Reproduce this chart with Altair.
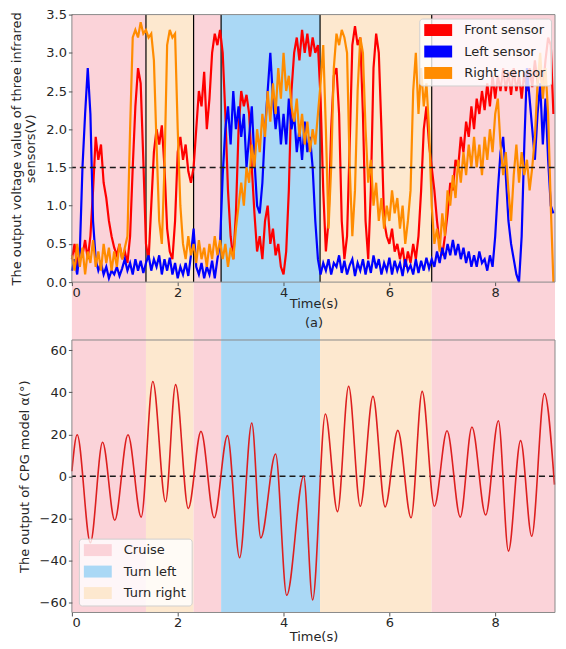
import altair as alt
import pandas as pd

# ---------------- data ----------------
STEP = 0.05
front = [0.3, 0.5, 0.2, 0.45, 0.35, 0.55, 0.3, 0.6, 1.2, 1.9, 1.6, 1.8,
         1.3, 1.1, 0.8, 0.6, 0.45, 0.35, 0.5, 0.3, 0.4, 0.25, 0.6, 1.5,
         2.3, 2.8, 2.6, 1.6, 0.5, 0.3, 1.0, 1.7, 2.0, 1.8, 2.05, 1.5,
         0.7, 0.4, 0.3, 0.8, 1.7, 1.9, 1.6, 1.8, 1.45, 1.3, 1.5, 2.0,
         2.5, 2.3, 2.75, 2.0, 2.4, 3.0, 3.25, 3.1, 3.3, 3.0, 2.2, 1.2,
         0.6, 0.3, 0.9, 2.0, 2.5, 2.3, 2.45, 2.2, 1.5, 0.9, 0.4, 0.6,
         0.3, 0.8, 1.0, 0.5, 0.7, 0.35, 0.5, 0.2, 0.1, 0.4, 1.2, 2.5,
         3.0, 3.2, 2.9, 3.3, 3.0, 3.25, 2.95, 3.2, 3.0, 3.1, 2.4, 1.2,
         0.4, 0.8, 2.0, 2.7, 2.8, 2.2, 0.8, 0.3, 0.6, 1.8, 3.1, 3.35,
         3.1, 3.2, 2.2, 0.8, 0.3, 1.2, 2.8, 3.25, 3.0, 2.0, 0.8, 0.6,
         0.5, 0.7, 0.4, 0.5, 0.3, 0.45, 0.2, 0.4, 0.25, 0.5, 0.3, 0.6,
         1.2, 2.0, 2.3, 1.8, 1.5, 1.2, 0.8, 0.5, 0.35, 0.6, 0.9, 1.3,
         1.2, 1.6, 1.5, 1.9, 1.7, 2.1, 1.9, 2.3, 2.0, 2.4, 2.2, 2.5,
         2.25, 2.6, 2.3, 2.7, 2.4, 2.7, 2.5, 2.8, 2.5, 2.75, 2.45, 2.8,
         2.5, 2.7, 2.4, 2.75, 2.5, 2.8, 2.55, 2.9, 2.6, 2.8, 2.5, 2.9,
         3.2, 3.1, 2.2]
left = [0.15, 0.3, 0.1, 0.4, 1.5, 2.2, 2.8, 2.2, 0.8, 0.3, 0.15, 0.25,
        0.1, 0.2, 0.05, 0.15, 0.1, 0.2, 0.08, 0.18, 0.3, 0.15, 0.25, 0.1,
        0.3, 0.15, 0.28, 0.12, 0.25, 0.35, 0.15, 0.3, 0.2, 0.35, 0.1, 0.3,
        0.15, 0.32, 0.1, 0.25, 0.05, 0.2, 0.1, 0.25, 0.08, 0.35, 0.7, 0.2,
        0.1, 0.25, 0.05, 0.2, 0.1, 0.28, 0.05, 0.3, 0.5, 1.4, 2.0, 2.3,
        1.8, 2.5, 2.0, 2.3, 1.9, 2.2, 1.5, 1.9, 2.3, 1.6, 1.0, 0.9,
        1.3, 2.0, 2.5, 3.0, 2.4, 2.0, 2.3, 1.8, 2.2, 1.8, 2.4, 2.0,
        2.2, 1.7, 2.0, 1.6, 2.1, 1.7, 1.9, 1.5, 0.8, 0.3, 0.1, 0.25,
        0.15, 0.3, 0.1, 0.25, 0.2, 0.35, 0.12, 0.28, 0.1, 0.22, 0.3, 0.08,
        0.25, 0.15, 0.3, 0.1, 0.28, 0.12, 0.35, 0.18, 0.3, 0.1, 0.25, 0.15,
        0.32, 0.1, 0.28, 0.15, 0.25, 0.08, 0.3, 0.15, 0.22, 0.1, 0.3, 0.12,
        0.28, 0.15, 0.32, 0.18, 0.3, 0.2, 0.4, 0.25, 0.45, 0.3, 0.5, 0.35,
        0.55, 0.35, 0.5, 0.3, 0.45, 0.25, 0.4, 0.2, 0.35, 0.2, 0.4, 0.25,
        0.3, 0.15, 0.35, 0.2, 0.6, 1.2, 1.7, 1.9, 1.4, 0.8, 0.5, 0.3,
        0.1, 0.0, 0.6, 1.8, 2.8, 2.4, 2.0, 1.6, 2.2, 2.6, 1.8, 2.4,
        1.6, 1.0, 0.9]
right = [0.35, 0.15, 0.5, 0.2, 0.45, 0.1, 0.4, 0.25, 0.55, 0.2, 0.4, 0.15,
         0.5, 0.25, 0.45, 0.15, 0.4, 0.2, 0.5, 0.3, 0.45, 0.6, 2.0, 3.2,
         3.3, 3.2, 3.4, 3.25, 3.3, 3.2, 3.25, 2.9, 1.8, 0.8, 0.5, 1.5,
         3.1, 3.3, 3.2, 3.25, 2.0, 1.0, 0.5, 0.3, 0.6, 0.35, 0.5, 0.25,
         0.55, 0.3, 0.45, 0.2, 0.5, 0.3, 0.6, 0.35, 0.55, 0.3, 0.5, 0.2,
         0.45, 0.3, 0.7, 1.0, 1.3, 1.0, 1.5, 1.3, 1.8, 1.5, 2.0, 1.7,
         2.2, 1.9, 2.5, 2.1, 2.6, 2.2, 2.8, 2.4, 3.0, 2.5, 2.7, 2.3,
         2.1, 2.4, 1.9, 2.2, 1.8, 2.1, 1.7, 2.0, 1.8, 2.2, 2.6, 3.1,
         2.0, 0.7, 1.5, 2.8, 3.25, 3.1, 3.3, 3.2, 3.0, 1.5, 0.6, 1.2,
         2.5, 3.2, 3.0, 2.0, 1.3, 1.6, 1.0, 1.3, 0.8, 1.1, 0.7, 1.0,
         0.8, 1.2, 0.9, 1.1, 0.7, 1.0, 0.5, 0.8, 1.2, 2.5, 3.0, 2.2,
         2.8, 2.3, 2.6, 2.0, 1.0, 0.5, 0.7, 0.4, 0.9, 0.6, 1.2, 1.0,
         1.4, 1.1, 1.6, 1.3, 1.7, 1.4, 1.8, 1.5, 1.9, 1.5, 1.8, 1.4,
         1.9, 1.6, 2.0, 1.7, 2.2, 2.4, 1.8, 1.4, 1.7, 1.2, 0.8, 1.4,
         1.8, 1.3, 1.7, 1.4, 1.6, 1.2, 1.5, 1.9, 2.6, 3.0, 2.4, 2.8,
         2.2, 1.0, 0.0]
sensor_names = ["Front sensor", "Left sensor", "Right sensor"]
sensor_colors = ["#ff0000", "#0000ff", "#ff8c00"]

# CPG output: extrema (time, value)
cpg_t = [0.0, 0.10, 0.35, 0.58, 0.81, 1.06, 1.31, 1.53, 1.77, 1.96, 2.20,
         2.44, 2.69, 2.94, 3.17, 3.40, 3.57, 3.85, 4.06, 4.38, 4.55, 4.79,
         5.02, 5.23, 5.45, 5.69, 5.92, 6.16, 6.41, 6.62, 6.85, 7.09, 7.34,
         7.56, 7.82, 8.06, 8.25, 8.48, 8.69, 8.93, 9.12]
cpg_v = [2.4, 19.8, -31.7, 16.2, -21.0, 19.8, -19.5, 45.2, -12.2, 43.7, -15.4,
         21.4, -19.8, 19.4, -38.9, 25.4, -29.4, 10.6, -56.8, 0.0, -59.0, 29.7,
         -16.9, 42.9, -14.3, 38.1, -14.6, 21.9, -19.8, 40.5, -14.3, 21.7, -19.5,
         23.5, -18.5, 26.5, -35.7, 17.0, -28.6, 39.4, -4.0]

# motion modes
reg_start = [0.0, 1.4, 2.3, 2.82, 4.69, 6.8]
reg_end = [1.4, 2.3, 2.82, 4.69, 6.8, 9.13]
reg_mode = ["Cruise", "Turn right", "Cruise", "Turn left", "Turn right", "Cruise"]
boundaries = [1.4, 2.3, 2.82, 4.69, 6.8]
mode_names = ["Cruise", "Turn left", "Turn right"]
mode_colors = ["#fbd3d9", "#aad8f5", "#fde8cf"]

x_ticks = [0, 2, 4, 6, 8]
y1_ticks = [0.0, 0.5, 1.0, 1.5, 2.0, 2.5, 3.0, 3.5]
y2_ticks = [-60, -40, -20, 0, 20, 40, 60]

# ---------------- tables ----------------
time = [round(i * STEP, 2) for i in range(len(front))]
rows = []
for name, vals in zip(sensor_names, [front, left, right]):
    for t, v in zip(time, vals):
        rows.append({"t": t, "v": v, "sensor": name})
sensors = pd.DataFrame(rows)
cpg = pd.DataFrame({"t": cpg_t, "v": cpg_v})
regions = pd.DataFrame({"start": reg_start, "end": reg_end, "mode": reg_mode})
bounds_df = pd.DataFrame({"b": boundaries})

W, H1, H2, GAP = 484, 268, 273, 58
FONT = "DejaVu Sans"
TXT = "#262626"
SWATCH = "M-1,-0.92H3.3V0.92H-1Z"

xscale = alt.Scale(domain=[0, 9.13], nice=False, zero=False)
y1scale = alt.Scale(domain=[0, 3.5], nice=False)
y2scale = alt.Scale(domain=[-65, 65], nice=False)
mode_scale = alt.Scale(domain=mode_names, range=mode_colors)
sensor_scale = alt.Scale(domain=sensor_names, range=sensor_colors)

def x_axis(title, pad):
    return alt.Axis(values=x_ticks, format="d", title=title, titleLineHeight=19,
                    titleFontWeight="normal", titleFontSize=13, titlePadding=pad,
                    labelFontSize=13, tickSize=3.5, labelPadding=1, zindex=2,
                    domain=False, grid=False, labelColor=TXT, titleColor=TXT,
                    tickColor="#555")

y1_axis = alt.Axis(values=y1_ticks, format=".1f",
                   title=["The output voltage value of three infrared", "sensors(V)"],
                   titleLineHeight=14, titleFontWeight="normal", titleFontSize=13,
                   titlePadding=8, labelFontSize=13, tickSize=3.5, labelPadding=2,
                   domain=False, grid=False, labelColor=TXT, titleColor=TXT,
                   tickColor="#555", zindex=2)
y2_axis = alt.Axis(values=y2_ticks, format="d",
                   title="The output of CPG model α(°)",
                   titleFontWeight="normal", titleFontSize=13,
                   titlePadding=8, labelFontSize=13, tickSize=3.5, labelPadding=2,
                   domain=False, grid=False, labelColor=TXT, titleColor=TXT,
                   tickColor="#555", zindex=2)

xa_top = x_axis(["Time(s)", "(a)"], -2)
xa_bot = x_axis(["Time(s)", "(b)"], 1)

frame_df = pd.DataFrame({"k": [0]})

def legend(orient, offset):
    return alt.Legend(title=None, orient=orient, offset=offset,
                      symbolType=SWATCH, symbolSize=169, symbolStrokeWidth=0,
                      symbolOpacity=1, labelFontSize=13, labelColor=TXT,
                      labelOffset=27, rowPadding=7.5,
                      fillColor="rgba(255,255,255,0.8)", strokeColor="#d0d0d0",
                      cornerRadius=3, padding=5)

# ---------------- top panel ----------------
top_bg = alt.Chart(regions).mark_rect().encode(
    x=alt.X("start:Q", scale=xscale, axis=xa_top),
    x2="end:Q",
    y=alt.value(0), y2=alt.value(H1 + GAP),
    fill=alt.Fill("mode:N", scale=mode_scale, legend=None),
)
top_rules = alt.Chart(bounds_df).mark_rule(color="black", strokeWidth=1.2).encode(
    x=alt.X("b:Q", scale=xscale, axis=xa_top),
    y=alt.value(0), y2=alt.value(H1),
)
# invisible filled points that only carry the legend with solid swatches
top_key = alt.Chart(sensors).mark_point(filled=True, size=0, opacity=1,
                                        shape=SWATCH).encode(
    x=alt.X("t:Q", scale=xscale, axis=xa_top),
    y=alt.Y("v:Q", scale=y1scale, axis=y1_axis),
    color=alt.Color("sensor:N", scale=sensor_scale, sort=sensor_names,
                    legend=legend("top-right", 4)),
)
top_lines = alt.Chart(sensors).mark_line(strokeWidth=2.2).encode(
    x=alt.X("t:Q", scale=xscale, axis=xa_top),
    y=alt.Y("v:Q", scale=y1scale, axis=y1_axis),
    color=alt.Color("sensor:N", scale=sensor_scale, sort=sensor_names, legend=None),
)
top_dash = alt.Chart(pd.DataFrame({"y": [1.5]})).mark_rule(
    color="#1a1a1a", strokeDash=[6, 4], strokeWidth=1.6).encode(
    y=alt.Y("y:Q", scale=y1scale, axis=y1_axis))
top_frame = alt.Chart(frame_df).mark_rect(fill="transparent", stroke="#8a8a8a",
                                          strokeWidth=1).encode(
    x=alt.value(0), x2=alt.value(W), y=alt.value(0), y2=alt.value(H1))

top = alt.layer(top_bg, top_rules, top_key, top_lines, top_dash, top_frame).properties(
    width=W, height=H1)

# ---------------- bottom panel ----------------
bot_bg = alt.Chart(regions).mark_rect().encode(
    x=alt.X("start:Q", scale=xscale, axis=xa_bot),
    x2="end:Q",
    y=alt.value(0), y2=alt.value(H2),
    fill=alt.Fill("mode:N", scale=mode_scale, legend=legend("bottom-left", 7)),
)
bot_dash = alt.Chart(pd.DataFrame({"y": [0]})).mark_rule(
    color="#1a1a1a", strokeDash=[6, 4], strokeWidth=1.6).encode(
    y=alt.Y("y:Q", scale=y2scale, axis=y2_axis))
bot_line = alt.Chart(cpg).mark_line(color="#dd1f1f", strokeWidth=1.6,
                                    interpolate="monotone").encode(
    x=alt.X("t:Q", scale=xscale, axis=xa_bot),
    y=alt.Y("v:Q", scale=y2scale, axis=y2_axis),
)
bot_frame = alt.Chart(frame_df).mark_rect(fill="transparent", stroke="#8a8a8a",
                                          strokeWidth=1).encode(
    x=alt.value(0), x2=alt.value(W), y=alt.value(0), y2=alt.value(H2))

bottom = alt.layer(bot_bg, bot_dash, bot_line, bot_frame).properties(width=W, height=H2)

chart = alt.vconcat(top, bottom, spacing=GAP, bounds="flush").resolve_scale(
    fill="independent", color="independent").resolve_legend(
    fill="independent", color="independent").properties(
    padding={"left": 2, "top": 0, "right": 0, "bottom": 0}
).configure(font=FONT).configure_view(stroke=None)

chart.save("out.html", embed_options={"renderer": "svg", "actions": False})
